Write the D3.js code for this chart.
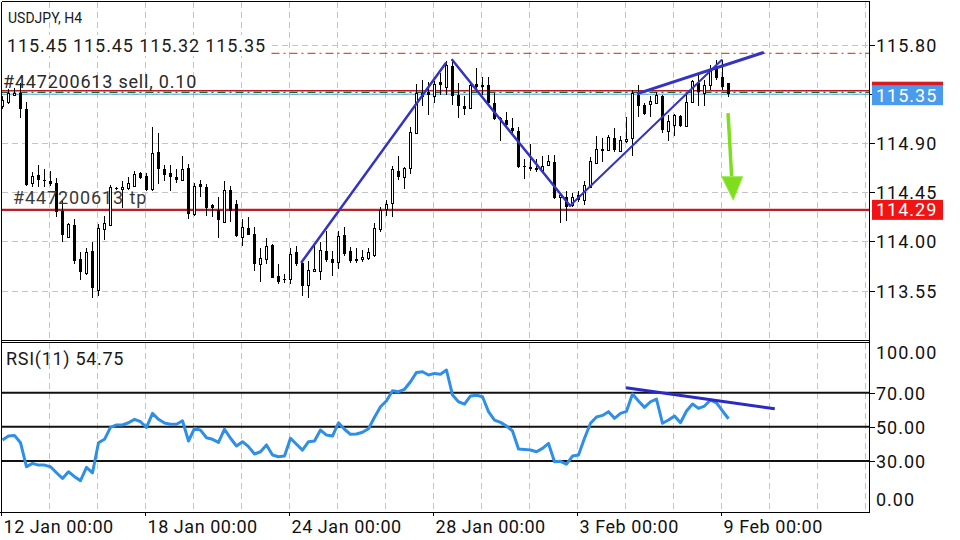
<!DOCTYPE html>
<html><head><meta charset="utf-8">
<script src="https://cdn.jsdelivr.net/npm/d3@7"></script>
<style>
html,body{margin:0;padding:0;background:#fff;}
svg{display:block;font-family:Roboto,"Noto Sans",sans-serif;}
</style></head>
<body><svg id="c" width="960" height="540"></svg>
<script>
// ---------- DATA ----------
const symbolTitle = "USDJPY, H4";
const headerOHLC = ["115.45", "115.45", "115.32", "115.35"];
const orderLabel = "#447200613 sell, 0.10";
const tpLabel = "#447200613 tp";
const rsiLabel = "RSI(11) 54.75";

const opens = [115.24,115.28,115.34,115.36,115.21,114.54,114.61,114.56,114.55,114.54,
114.28,114.04,114.15,113.84,113.71,113.91,113.56,114.11,114.15,114.49,
114.48,114.49,114.51,114.63,114.60,114.48,114.82,114.66,114.63,114.59,
114.56,114.67,114.25,114.53,114.50,114.33,114.29,114.18,114.47,114.34,
114.04,114.12,114.07,113.79,113.84,113.97,113.68,113.66,113.66,113.90,
113.80,113.60,113.73,113.73,113.91,113.84,113.81,114.06,113.91,113.84,
113.84,113.85,113.88,114.11,114.30,114.35,114.65,114.59,114.67,114.99,
115.33,115.37,115.33,115.46,115.42,115.61,115.34,115.24,115.22,115.44,
115.43,115.43,115.27,115.13,115.11,115.04,115.01,114.69,114.68,114.67,
114.65,114.70,114.73,114.41,114.41,114.33,114.43,114.38,114.50,114.72,
114.85,114.84,114.95,114.83,114.92,114.95,115.34,115.25,115.26,115.27,
115.33,115.01,115.07,115.15,115.06,115.28,115.45,115.36,115.43,115.59,
115.51,115.45];
const highs = [115.33,115.40,115.41,115.45,115.28,114.64,114.70,114.66,114.65,114.58,
114.38,114.17,114.21,113.90,113.94,114.00,114.16,114.23,114.52,114.50,
114.55,114.59,114.65,114.64,114.63,115.05,114.99,114.70,114.70,114.66,
114.78,114.71,114.54,114.56,114.53,114.34,114.41,114.55,114.51,114.38,
114.21,114.22,114.13,113.94,114.03,113.98,113.79,113.70,113.94,113.96,
113.83,113.82,113.99,114.00,114.10,113.91,114.10,114.13,113.95,113.94,
113.92,113.94,114.17,114.32,114.38,114.69,114.78,114.68,115.05,115.44,
115.48,115.46,115.47,115.54,115.65,115.67,115.45,115.33,115.47,115.59,
115.51,115.51,115.36,115.14,115.19,115.13,115.05,114.76,114.89,114.76,
114.78,114.79,114.79,114.44,114.46,114.44,114.46,114.55,114.77,114.97,
114.95,114.98,115.04,114.97,115.14,115.39,115.43,115.27,115.33,115.37,
115.34,115.16,115.17,115.16,115.36,115.48,115.53,115.48,115.62,115.66,
115.66,115.45];
const lows = [115.21,115.26,115.33,115.13,114.51,114.50,114.50,114.50,114.51,114.22,
114.00,114.04,113.79,113.65,113.69,113.48,113.50,114.01,114.14,114.47,
114.31,114.47,114.50,114.57,114.46,114.46,114.53,114.55,114.46,114.54,
114.55,114.21,114.23,114.41,114.23,114.22,114.03,114.18,114.18,114.04,
113.96,114.06,113.73,113.63,113.79,113.67,113.61,113.62,113.61,113.78,
113.50,113.48,113.72,113.65,113.81,113.68,113.75,113.87,113.80,113.80,
113.81,113.83,113.86,114.09,114.23,114.22,114.56,114.48,114.62,114.99,
115.24,115.16,115.27,115.34,115.34,115.25,115.13,115.16,115.21,115.37,
115.34,115.26,115.11,114.92,115.05,114.98,114.67,114.57,114.65,114.64,
114.65,114.69,114.39,114.17,114.19,114.32,114.36,114.33,114.49,114.72,
114.73,114.83,114.82,114.82,114.90,114.78,115.14,115.16,115.14,115.26,
114.99,114.92,114.97,115.05,115.05,115.27,115.24,115.24,115.39,115.48,
115.39,115.32];
const closes = [115.30,115.36,115.36,115.21,114.52,114.60,114.56,114.55,114.53,114.27,
114.06,114.16,113.82,113.72,113.90,113.57,114.12,114.17,114.50,114.48,
114.50,114.54,114.62,114.58,114.47,114.81,114.66,114.61,114.59,114.56,
114.66,114.25,114.51,114.50,114.31,114.31,114.20,114.47,114.28,114.05,
114.13,114.06,113.79,113.85,113.96,113.67,113.63,113.65,113.89,113.79,
113.59,113.74,113.75,113.92,113.83,113.80,114.05,113.89,113.82,113.82,
113.86,113.90,114.12,114.29,114.34,114.66,114.59,114.67,115.00,115.36,
115.36,115.34,115.44,115.43,115.62,115.33,115.24,115.21,115.43,115.42,
115.42,115.27,115.12,115.11,115.07,115.01,114.68,114.68,114.68,114.67,
114.69,114.74,114.40,114.43,114.32,114.41,114.38,114.52,114.74,114.85,
114.85,114.96,114.84,114.93,114.94,115.36,115.24,115.17,115.29,115.34,
115.02,115.10,115.16,115.06,115.28,115.47,115.37,115.43,115.57,115.50,
115.42,115.35];
const rsiValues = [42.3,44.6,45.0,40.7,26.6,28.6,27.6,27.6,26.6,23.1,
19.8,23.7,20.8,18.5,26.3,23.1,40.7,42.7,49.7,51.1,
51.1,52.4,54.4,53.0,49.7,57.9,54.4,52.2,51.5,51.5,
53.6,41.7,49.1,48.1,43.6,42.7,40.9,48.6,43.3,38.8,
41.3,38.4,34.1,35.4,39.4,33.5,32.5,32.9,43.3,39.8,
36.4,41.3,41.7,48.1,45.2,44.6,52.4,48.6,45.6,45.8,
46.8,48.9,55.6,61.8,65.3,71.2,70.6,72.0,76.4,81.9,
82.3,80.4,81.3,80.8,83.3,68.6,64.7,63.3,68.1,68.5,
67.6,58.9,54.0,52.6,50.5,47.6,37.0,36.8,36.4,35.4,
37.4,40.3,29.6,29.8,28.1,32.9,33.5,43.3,52.1,55.8,
56.7,58.9,55.0,57.9,59.1,69.2,65.1,61.4,64.7,66.3,
52.1,54.0,56.3,52.4,59.3,63.4,60.8,62.2,65.7,64.1,
59.3,54.75];

const priceTicks = [115.80, 115.35, 114.90, 114.45, 114.00, 113.55];
const rsiTicks = [100, 70, 50, 30, 0];
const rsiLevels = [70, 50, 30];
const timeLabels = ["12 Jan 00:00", "18 Jan 00:00", "24 Jan 00:00", "28 Jan 00:00", "3 Feb 00:00", "9 Feb 00:00"];
const timeLabelBars = [0, 24, 48, 72, 96, 120];
const gridBars = [8,16,24,32,40,48,56,64,72,80,88,96,104,112,120,128,136,144];

// order / level lines (price)
const highLinePrice = 115.725;
const orderOpenPrice = 115.382;
const askLinePrice = 115.367;
const bidPrice = 115.35;
const tpPrice = 114.29;

// hand-drawn trend lines [bar, price]
const trendLines = [
  [[49.95, 113.812], [73.95, 115.633]],
  [[75.05, 115.664], [94.67, 114.328]],
  [[94.67, 114.328], [119.95, 115.664]],
  [[106.05, 115.358], [126.78, 115.73]]
];
const trendWidths = [2.5, 2.5, 2, 3];
const rsiTrend = [[104, 72.9], [128.8, 60.6]];
const arrowShaft = [[121.0, 115.177], [121.25, 114.95], [121.6, 114.594]];
const arrowHead = [[119.95, 114.594], [123.45, 114.594], [121.88, 114.38]];

// ---------- CHART ----------
const svg = d3.select("#c");
const L = 1.5, R = 869.5, mainTop = 1.5, mainBottom = 340.5, rsiTop = 342.5, rsiBottom = 512;

const x = d3.scaleLinear().domain([0, 144]).range([2, 866]);
const y = d3.scaleLinear().domain([113.55, 115.80]).range([290.6, 45.1]);
const yr = d3.scaleLinear().domain([0, 100]).range([512.2, 341.5]);

svg.append("rect").attr("width", 960).attr("height", 540).attr("fill", "#fff");

const defs = svg.append("defs");
defs.append("clipPath").attr("id", "clipMain").append("rect")
  .attr("x", L).attr("y", mainTop).attr("width", R - L).attr("height", mainBottom - mainTop);
defs.append("clipPath").attr("id", "clipRsi").append("rect")
  .attr("x", L).attr("y", rsiTop).attr("width", R - L).attr("height", rsiBottom - rsiTop);

const gridColor = "#c4c4c4";
const dash = "6,4";

// vertical grid
const vg = svg.append("g").attr("shape-rendering", "crispEdges");
gridBars.forEach(b => {
  const gx = Math.round(x(b)) - 1 + 0.5;
  vg.append("line").attr("x1", gx).attr("x2", gx).attr("y1", mainTop).attr("y2", mainBottom)
    .attr("stroke", gridColor).attr("stroke-dasharray", dash);
  vg.append("line").attr("x1", gx).attr("x2", gx).attr("y1", rsiTop).attr("y2", rsiBottom)
    .attr("stroke", gridColor).attr("stroke-dasharray", dash);
});
// horizontal grid
priceTicks.forEach(p => {
  const gy = Math.round(y(p)) + 0.5;
  vg.append("line").attr("x1", L).attr("x2", R).attr("y1", gy).attr("y2", gy)
    .attr("stroke", gridColor).attr("stroke-dasharray", dash);
});

const main = svg.append("g").attr("clip-path", "url(#clipMain)");
const hdr = svg.append("g");

// price level lines
main.append("line").attr("x1", L).attr("x2", R).attr("y1", y(highLinePrice)).attr("y2", y(highLinePrice))
  .attr("stroke", "#dc5a20").attr("stroke-width", 1.3).attr("stroke-dasharray", "8,4,2,4");
main.append("line").attr("x1", L).attr("x2", R).attr("y1", y(orderOpenPrice)).attr("y2", y(orderOpenPrice))
  .attr("stroke", "#b81c24").attr("stroke-width", 1.6);
main.append("line").attr("x1", L).attr("x2", R).attr("y1", y(askLinePrice)).attr("y2", y(askLinePrice))
  .attr("stroke", "#1f6a32").attr("stroke-width", 1.4).attr("stroke-dasharray", "8,4,2,4");
main.append("line").attr("x1", L).attr("x2", R).attr("y1", y(bidPrice)).attr("y2", y(bidPrice))
  .attr("stroke", "#5aa2e6").attr("stroke-width", 1);
main.append("line").attr("x1", L).attr("x2", R).attr("y1", y(tpPrice)).attr("y2", y(tpPrice))
  .attr("stroke", "#c01c26").attr("stroke-width", 2.4);

// candles
const cg = main.append("g");
opens.forEach((o, i) => {
  const cx = Math.round(x(i));
  const c = closes[i], h = highs[i], l = lows[i];
  cg.append("line").attr("x1", cx + 0.5).attr("x2", cx + 0.5)
    .attr("y1", y(h)).attr("y2", y(l)).attr("stroke", "#000").attr("stroke-width", 1)
    .attr("shape-rendering", "crispEdges");
  const top = y(Math.max(o, c)), bot = y(Math.min(o, c));
  if (c >= o) {
    cg.append("rect").attr("x", cx - 0.5).attr("y", Math.round(top) + 0.5)
      .attr("width", 2).attr("height", Math.max(1, Math.round(bot) - Math.round(top)))
      .attr("fill", "#fff").attr("stroke", "#000").attr("stroke-width", 1)
      .attr("shape-rendering", "crispEdges");
  } else {
    cg.append("rect").attr("x", cx - 1).attr("y", Math.round(top))
      .attr("width", 3).attr("height", Math.max(1, Math.round(bot) - Math.round(top)))
      .attr("fill", "#000").attr("shape-rendering", "crispEdges");
  }
});

// trend lines
const tl = d3.line().x(d => x(d[0])).y(d => y(d[1]));
trendLines.forEach((t, k) => {
  main.append("path").attr("d", tl(t)).attr("fill", "none")
    .attr("stroke", "#3434c4").attr("stroke-width", trendWidths[k]).attr("stroke-linecap", "round");
});
// green arrow
main.append("path").attr("d", d3.line().curve(d3.curveBasis).x(d => x(d[0])).y(d => y(d[1]))(arrowShaft))
  .attr("fill", "none").attr("stroke", "#7ede1e").attr("stroke-width", 3.5);
main.append("path").attr("d", d3.line().x(d => x(d[0])).y(d => y(d[1]))(arrowHead) + "Z")
  .attr("fill", "#7ede1e").attr("stroke", "#9ae84a").attr("stroke-width", 1);

// texts in main panel
svg.append("text").attr("x", 8).attr("y", 23).attr("font-size", 14).attr("fill", "#1a1a1a")
  .text(symbolTitle);
const ht = svg.append("text").attr("x", 7).attr("y", 52).attr("font-size", 18).attr("fill", "#1a1a1a")
  .attr("letter-spacing", 0.9).text(headerOHLC.join(" "));
const bb = ht.node().getBBox();
hdr.append("rect").attr("x", 0).attr("y", bb.y).attr("width", bb.x + bb.width + 3).attr("height", bb.height)
  .attr("fill", "#fff");
hdr.raise(); ht.raise();
svg.append("text").attr("x", 3).attr("y", 88).attr("font-size", 18).attr("fill", "#2a2a2a")
  .attr("letter-spacing", 0.8).text(orderLabel);
svg.append("text").attr("x", 13).attr("y", 204).attr("font-size", 18).attr("fill", "#3a3a3a")
  .attr("letter-spacing", 0.9).text(tpLabel);

// RSI panel
const rsi = svg.append("g").attr("clip-path", "url(#clipRsi)");
rsiLevels.forEach(v => {
  rsi.append("line").attr("x1", L).attr("x2", R).attr("y1", yr(v)).attr("y2", yr(v))
    .attr("stroke", "#111").attr("stroke-width", 2);
});
rsi.append("path").datum(rsiValues)
  .attr("d", d3.line().x((d, i) => x(i) + 0.5).y(d => yr(d)))
  .attr("fill", "none").attr("stroke", "#2f8fe6").attr("stroke-width", 3).attr("stroke-linejoin", "round");
rsi.append("path").attr("d", d3.line().x(d => x(d[0])).y(d => yr(d[1]))(rsiTrend))
  .attr("stroke", "#2a2ac6").attr("stroke-width", 3).attr("fill", "none");
svg.append("text").attr("x", 6).attr("y", 365).attr("font-size", 18).attr("fill", "#1a1a1a")
  .attr("letter-spacing", 0.7).text(rsiLabel);

// frames
const fr = svg.append("g").attr("stroke", "#000").attr("stroke-width", 1).attr("shape-rendering", "crispEdges");
fr.append("line").attr("x1", L).attr("x2", R).attr("y1", mainTop).attr("y2", mainTop);
fr.append("line").attr("x1", L).attr("x2", L).attr("y1", mainTop).attr("y2", rsiBottom);
fr.append("line").attr("x1", L).attr("x2", R).attr("y1", mainBottom).attr("y2", mainBottom);
fr.append("line").attr("x1", L).attr("x2", R).attr("y1", rsiTop).attr("y2", rsiTop);
fr.append("line").attr("x1", 0).attr("x2", R).attr("y1", rsiBottom + 0.5).attr("y2", rsiBottom + 0.5);
fr.append("line").attr("x1", R).attr("x2", R).attr("y1", mainTop).attr("y2", rsiBottom);

// price axis
const ax = svg.append("g");
const markerPrices = [bidPrice];
priceTicks.forEach(p => {
  const ty = Math.round(y(p)) + 0.5;
  ax.append("line").attr("x1", R).attr("x2", R + 5).attr("y1", ty).attr("y2", ty)
    .attr("stroke", "#000").attr("shape-rendering", "crispEdges");
  if (markerPrices.indexOf(p) < 0) {
    ax.append("text").attr("x", 876).attr("y", ty).attr("dy", "0.35em").attr("font-size", 18)
      .attr("letter-spacing", 1).attr("fill", "#111").text(p.toFixed(2));
  }
});
// price markers
function marker(p, color, offset, withText) {
  const cy = y(p) + offset;
  ax.append("rect").attr("x", 872).attr("y", cy - 10).attr("width", 71).attr("height", 20).attr("fill", color);
  if (withText) {
    ax.append("text").attr("x", 876).attr("y", cy).attr("dy", "0.35em").attr("font-size", 18)
      .attr("letter-spacing", 1).attr("fill", "#fff").text(p.toFixed(2));
  }
}
marker(orderOpenPrice, "#d81a24", 1, false);
marker(bidPrice, "#4a9bec", 1, true);
marker(tpPrice, "#f01414", 0, true);

// rsi axis
rsiTicks.forEach(v => {
  const ty = Math.round(yr(v)) + 0.5;
  if (v > 0 && v < 100) {
    ax.append("line").attr("x1", R).attr("x2", R + 5).attr("y1", ty).attr("y2", ty)
      .attr("stroke", "#000").attr("shape-rendering", "crispEdges");
  }
  const ly = Math.min(Math.max(ty, rsiTop + 10), rsiBottom - 12);
  ax.append("text").attr("x", 876).attr("y", ly).attr("dy", "0.35em").attr("font-size", 18)
    .attr("letter-spacing", 1).attr("fill", "#111").text(v.toFixed(2));
});

// time axis
timeLabelBars.forEach((b, k) => {
  const tx = Math.round(x(b)) - 0.5;
  ax.append("line").attr("x1", tx).attr("x2", tx).attr("y1", rsiBottom).attr("y2", rsiBottom + 4)
    .attr("stroke", "#000").attr("shape-rendering", "crispEdges");
  ax.append("text").attr("x", tx + 2).attr("y", 533).attr("font-size", 18)
    .attr("letter-spacing", 0.55).attr("fill", "#111").text(timeLabels[k]);
});
</script></body></html>
